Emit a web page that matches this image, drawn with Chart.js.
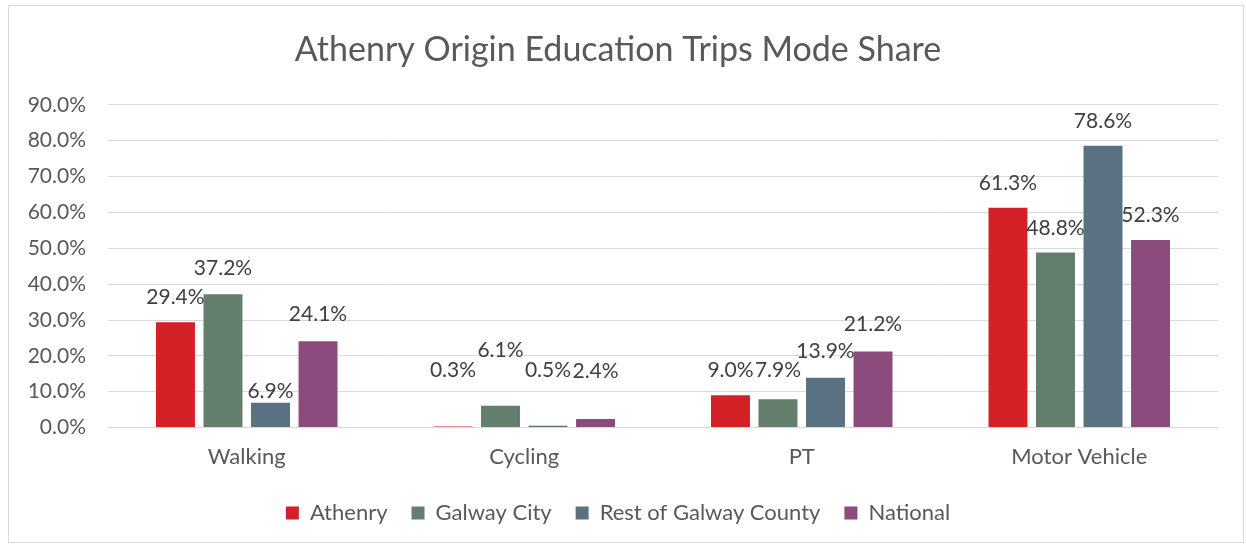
<!DOCTYPE html>
<html>
<head>
<meta charset="utf-8">
<script src="https://cdn.jsdelivr.net/npm/chart.js@4/dist/chart.umd.min.js"></script>
<style>
  html, body { margin: 0; padding: 0; background: #fff; }
  #wrap { position: absolute; left: 8px; top: 5px; width: 1236px; height: 538px; border: 1px solid #d9d9d9; box-sizing: border-box; }
  canvas { display: block; }
</style>
</head>
<body>
<div id="wrap"><canvas id="chart"></canvas></div>
<script>
const categories = ["Walking", "Cycling", "PT", "Motor Vehicle"];
const athenry = [29.4, 0.3, 9.0, 61.3];
const galwayCity = [37.2, 6.1, 7.9, 48.8];
const restOfCounty = [6.9, 0.5, 13.9, 78.6];
const national = [24.1, 2.4, 21.2, 52.3];
const yTicks = [0, 10, 20, 30, 40, 50, 60, 70, 80, 90];

const FONT = "Lato, 'Open Sans', sans-serif";
const TEXT = "#595959";

// label lift above bar top (px), tweaked per point like the original
const lift = {
  "0-0": 25, "1-0": 26, "2-0": 12, "3-0": 27,
  "0-1": 56, "1-1": 55, "2-1": 56, "3-1": 48,
  "0-2": 25, "1-2": 29, "2-2": 27, "3-2": 27,
  "0-3": 25, "1-3": 24, "2-3": 24, "3-3": 25
};

const valueLabels = {
  id: "valueLabels",
  afterDatasetsDraw(c) {
    const ctx = c.ctx;
    ctx.save();
    ctx.font = "21px " + FONT;
    ctx.fillStyle = "#404040";
    ctx.textAlign = "center";
    ctx.textBaseline = "middle";
    c.data.datasets.forEach((ds, di) => {
      c.getDatasetMeta(di).data.forEach((bar, i) => {
        const up = lift[di + "-" + i] || 25;
        ctx.fillText(ds.data[i].toFixed(1) + "%", bar.x, bar.y - up);
      });
    });
    ctx.restore();
  }
};

const ds = (label, data, color) => ({
  label, data, backgroundColor: color, borderWidth: 0,
  categoryPercentage: 0.685, barPercentage: 0.82
});

new Chart(document.getElementById("chart"), {
  type: "bar",
  data: {
    labels: categories,
    datasets: [
      ds("Athenry", athenry, "#d42027"),
      ds("Galway City", galwayCity, "#647e6d"),
      ds("Rest of Galway County", restOfCounty, "#5a7181"),
      ds("National", national, "#8b4b7d")
    ]
  },
  options: {
    responsive: true,
    maintainAspectRatio: false,
    animation: false,
    layout: { padding: { left: 9, right: 25, top: 12, bottom: 8 } },
    plugins: {
      title: {
        display: true,
        text: "Athenry Origin Education Trips Mode Share",
        color: TEXT,
        font: { family: FONT, size: 34, weight: "normal" },
        padding: { top: 12, bottom: 34 }
      },
      legend: {
        position: "bottom",
        labels: {
          color: TEXT,
          font: { family: FONT, size: 22 },
          boxWidth: 13, boxHeight: 13, padding: 24
        }
      },
      tooltip: { enabled: false }
    },
    scales: {
      x: {
        grid: { display: false },
        border: { color: "#d9d9d9" },
        ticks: { color: TEXT, font: { family: FONT, size: 22 }, padding: 8 }
      },
      y: {
        min: 0, max: 90,
        afterBuildTicks: s => { s.ticks = yTicks.map(v => ({ value: v })); },
        afterFit: s => { s.width = 90; },
        grid: { color: "#d9d9d9", drawTicks: false },
        border: { display: false },
        ticks: {
          color: TEXT, font: { family: FONT, size: 21 }, padding: 22,
          callback: v => v.toFixed(1) + "%"
        }
      }
    }
  },
  plugins: [valueLabels]
});
</script>
</body>
</html>
